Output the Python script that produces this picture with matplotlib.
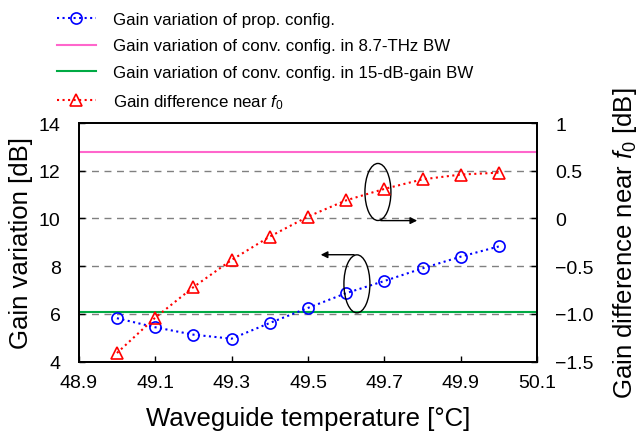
import matplotlib
matplotlib.use("Agg")
import matplotlib.pyplot as plt
from matplotlib.patches import Ellipse

plt.rcParams['font.family'] = ['Liberation Sans', 'DejaVu Sans']
plt.rcParams['mathtext.fontset'] = 'custom'
plt.rcParams['mathtext.it'] = 'Liberation Sans:italic'
plt.rcParams['mathtext.rm'] = 'Liberation Sans'

# datos
temp = [49.0, 49.1, 49.2, 49.3, 49.4, 49.5, 49.6, 49.7, 49.8, 49.9, 50.0]
var_prop = [5.82, 5.44, 5.13, 4.96, 5.62, 6.25, 6.87, 7.38, 7.91, 8.40, 8.83]
dif_f0 = [-1.41, -1.04, -0.72, -0.435, -0.19, 0.02, 0.19, 0.31, 0.41, 0.46, 0.48]
conv_87thz = 12.77
conv_15db = 6.08

xticks = [48.9, 49.1, 49.3, 49.5, 49.7, 49.9, 50.1]
yticks_izq = [4, 6, 8, 10, 12, 14]
yticks_der = [1, 0.5, 0, -0.5, -1.0, -1.5]
yticklabels_der = ['1', '0.5', '0', '\u22120.5', '\u22121.0', '\u22121.5']

fig = plt.figure(figsize=(6.4, 4.39), dpi=100)
ax = fig.add_axes([0.123, 0.174, 0.7165, 0.5435])
ax2 = ax.twinx()

# lineas de rejilla
for y in [6, 8, 10, 12]:
    ax.axhline(y, color='#808080', ls=(0, (5, 4)), lw=1.0, zorder=1)

l1, = ax.plot(temp, var_prop, ls=':', color='blue', lw=1.5, marker='o',
              ms=8, mfc='none', mec='blue', mew=1.2, zorder=3)
l2 = ax.axhline(conv_87thz, color='#ff66cc', lw=1.5, zorder=2)
l3 = ax.axhline(conv_15db, color='#00aa44', lw=1.5, zorder=2)
l4, = ax2.plot(temp, dif_f0, ls=':', color='red', lw=1.5, marker='^',
               ms=9, mfc='none', mec='red', mew=1.2, zorder=3)

ax.set_xlim(48.9, 50.1)
ax.set_ylim(4, 14)
ax2.set_ylim(-1.5, 1)
ax.set_xticks(xticks)
ax.set_xticklabels([f"{t:.1f}" for t in xticks])
ax.set_yticks(yticks_izq)
ax2.set_yticks(yticks_der)
ax2.set_yticklabels(yticklabels_der)

for a in (ax, ax2):
    a.tick_params(direction='in', labelsize=14, length=4, width=1)
    for s in a.spines.values():
        s.set_linewidth(1.3)
ax.tick_params(axis='x', pad=9)
ax.tick_params(axis='y', pad=13)
ax2.tick_params(axis='y', pad=13)

ax.set_xlabel("Waveguide temperature [\u00b0C]", fontsize=18.5, labelpad=11)
ax.set_ylabel("Gain variation [dB]", fontsize=18.5, labelpad=4)
ax2.set_ylabel("Gain difference near $f_0$ [dB]", fontsize=18.5, labelpad=12)

# elipses y flechas
ax.add_patch(Ellipse((49.683, 11.11), 0.068, 2.39, fill=False, ec='black', lw=1.0, zorder=4))
ax.annotate('', xy=(49.793, 9.91), xytext=(49.683, 9.91),
            arrowprops=dict(arrowstyle='-|>', color='black', lw=1.0, mutation_scale=10))
ax.add_patch(Ellipse((49.628, 7.26), 0.068, 2.43, fill=False, ec='black', lw=1.0, zorder=4))
ax.annotate('', xy=(49.526, 8.48), xytext=(49.628, 8.48),
            arrowprops=dict(arrowstyle='-|>', color='black', lw=1.0, mutation_scale=10))

fig.legend([l1, l2, l3, l4],
           ["Gain variation of prop. config.",
            "Gain variation of conv. config. in 8.7-THz BW",
            "Gain variation of conv. config. in 15-dB-gain BW",
            "Gain difference near $f_0$"],
           loc='upper left', bbox_to_anchor=(0.065, 1.006), frameon=False,
           fontsize=12.2, handlelength=2.3, labelspacing=0.7, handletextpad=1.0)

fig.savefig("out.png", dpi=100)
